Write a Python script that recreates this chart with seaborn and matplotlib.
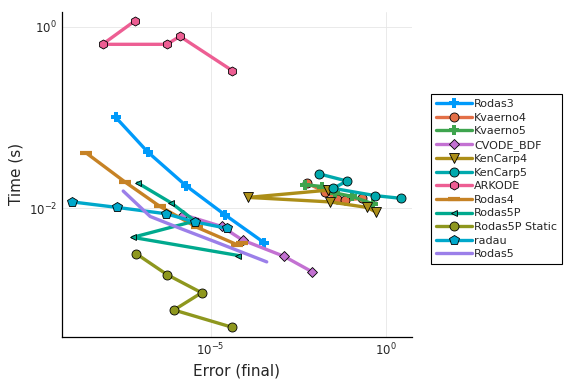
import numpy as np
import pandas as pd
import matplotlib
matplotlib.use("Agg")
import matplotlib.pyplot as plt
import seaborn as sns

# work-precision data (log10 error, log10 time)
names = ["Rodas3", "Kvaerno4", "Kvaerno5", "CVODE_BDF", "KenCarp4", "KenCarp5",
         "ARKODE", "Rodas4", "Rodas5P", "Rodas5P Static", "radau", "Rodas5"]

rodas3_err = [-7.71, -6.80, -5.71, -4.60, -3.47]
rodas3_time = [-1.00, -1.38, -1.75, -2.07, -2.38]

kvaerno4_err = [-2.26, -1.73, -1.39, -1.16, -0.68]
kvaerno4_time = [-1.72, -1.82, -1.90, -1.91, -1.89]

kvaerno5_err = [-2.31, -1.82, -1.45, -0.96, -0.37]
kvaerno5_time = [-1.74, -1.76, -1.83, -1.87, -1.95]

cvode_err = [-5.79, -4.69, -4.09, -2.90, -2.10]
cvode_time = [-2.07, -2.20, -2.35, -2.53, -2.70]

kencarp4_err = [-1.64, -3.93, -1.58, -0.54, -0.28]
kencarp4_time = [-1.80, -1.88, -1.93, -1.99, -2.04]

kencarp5_err = [-1.91, -1.11, -1.50, -0.31, 0.43]
kencarp5_time = [-1.62, -1.70, -1.78, -1.86, -1.89]

arkode_err = [-4.38, -5.88, -6.25, -8.09, -7.16]
arkode_time = [-0.485, -0.106, -0.194, -0.194, 0.066]

rodas4_err = [-8.56, -7.45, -6.45, -5.39, -4.25, -4.11]
rodas4_time = [-1.39, -1.71, -1.98, -2.21, -2.40, -2.38]

rodas5p_err = [-7.09, -6.13, -5.45, -7.23, -4.21]
rodas5p_time = [-1.72, -1.94, -2.14, -2.32, -2.52]

rodas5ps_err = [-7.13, -6.25, -5.26, -6.05, -4.39]
rodas5ps_time = [-2.50, -2.73, -2.93, -3.12, -3.31]

radau_err = [-8.95, -7.68, -6.28, -5.45, -4.54]
radau_time = [-1.93, -1.99, -2.06, -2.15, -2.22]

rodas5_err = [-7.50, -6.73, -5.88, -4.73, -3.40]
rodas5_time = [-1.81, -2.09, -2.22, -2.39, -2.59]

errs = [rodas3_err, kvaerno4_err, kvaerno5_err, cvode_err, kencarp4_err, kencarp5_err,
        arkode_err, rodas4_err, rodas5p_err, rodas5ps_err, radau_err, rodas5_err]
times = [rodas3_time, kvaerno4_time, kvaerno5_time, cvode_time, kencarp4_time, kencarp5_time,
         arkode_time, rodas4_time, rodas5p_time, rodas5ps_time, radau_time, rodas5_time]

colors = ["#009AFA", "#E36F47", "#3EA44E", "#C371D2", "#AC8E18", "#00A9AD",
          "#ED5E93", "#C68225", "#00A98E", "#8E971E", "#00A8CB", "#9B7FE9"]
markers = ["P", "o", "P", "D", "v", "o", "h", "_", "<", "o", "p", None]
msizes = [7, 6.5, 7, 5, 6.5, 6.5, 6.5, 8, 5, 6.5, 7, 0]

sns.set_style("white")
plt.rcParams['font.family'] = ['DejaVu Sans']

fig, ax = plt.subplots(figsize=(5.76, 3.84), dpi=100)
fig.subplots_adjust(left=0.1076, right=0.7148, top=0.9695, bottom=0.1232)

for name, e, t, c, m, ms in zip(names, errs, times, colors, markers, msizes):
    df = pd.DataFrame({"err": 10.0 ** np.array(e), "time": 10.0 ** np.array(t)})
    kw = dict(marker=m, markersize=ms, markeredgecolor="black", markeredgewidth=0.6)
    if m == "P":
        kw.update(markeredgecolor=c, markeredgewidth=0.0)
    if m == "_":
        kw.update(markeredgecolor=c, markeredgewidth=3)
    if m is None:
        kw = {}
    sns.lineplot(data=df, x="err", y="time", sort=False, estimator=None, color=c,
                 linewidth=2.4, label=name, ax=ax, **kw)

ax.set_xscale("log")
ax.set_yscale("log")
ax.set_xlim(10 ** -9.25, 10 ** 0.743)
ax.set_ylim(10 ** -3.414, 10 ** 0.165)
ax.set_xticks([1e-5, 1e0])
ax.set_yticks([1e-2, 1e0])
ax.minorticks_off()
ax.grid(True, color="#e6e6e6", linewidth=0.6)
ax.set_axisbelow(True)
ax.tick_params(direction="in", length=3, labelsize=8.5, width=0.6)
for s in ["top", "right"]:
    ax.spines[s].set_visible(False)
for s in ["left", "bottom"]:
    ax.spines[s].set_color("black")
    ax.spines[s].set_linewidth(0.9)

ax.set_xlabel("Error (final)", fontsize=11)
ax.set_ylabel("Time (s)", fontsize=11)

leg = ax.legend(loc="center left", bbox_to_anchor=(1.04, 0.485), fontsize=8,
                handlelength=3.2, handletextpad=0.2, labelspacing=0.32,
                borderpad=0.45, fancybox=False, framealpha=1, edgecolor="black")
leg.get_frame().set_linewidth(0.8)

fig.savefig("out.png", dpi=100)
